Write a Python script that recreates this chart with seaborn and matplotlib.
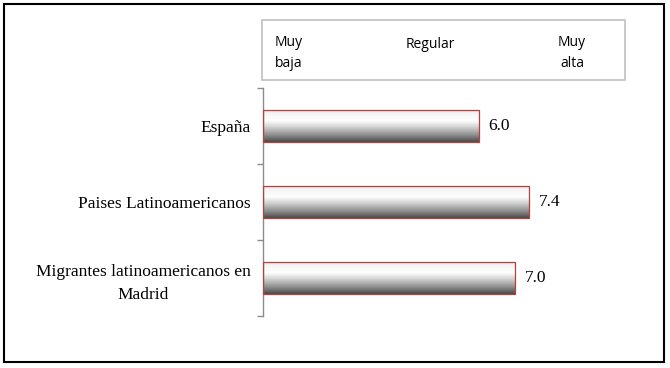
import matplotlib
matplotlib.use("Agg")
import matplotlib.pyplot as plt
import seaborn as sns
import numpy as np
import pandas as pd
from matplotlib.patches import Rectangle
from matplotlib.colors import LinearSegmentedColormap

categories = ["España", "Paises Latinoamericanos", "Migrantes latinoamericanos en\nMadrid"]
values = [6.0, 7.4, 7.0]
value_labels = ["6.0", "7.4", "7.0"]
scale_labels = ["Muy\nbaja", "Regular", "Muy\nalta"]

df = pd.DataFrame({"cat": categories, "val": values})

sns.set_style("white")
plt.rcParams["font.family"] = ["Liberation Serif", "DejaVu Serif"]
plt.rcParams["text.color"] = "black"
plt.rcParams["ytick.color"] = "black"

W, H = 670, 368
fig = plt.figure(figsize=(W / 100, H / 100), dpi=100)
ax = fig.add_axes([263 / W, 52 / H, 360 / W, 228 / H])

sns.barplot(data=df, x="val", y="cat", orient="h", ax=ax, width=0.43,
            color="white", edgecolor="#b5403c", linewidth=0.9, zorder=3)

# gradient fill for each bar
cmap = LinearSegmentedColormap.from_list(
    "g", [(0.0, "#d8d8d8"), (0.12, "#f4f4f4"), (0.35, "#ffffff"),
          (0.55, "#d0d0d0"), (0.8, "#8a8a8a"), (1.0, "#4a4a4a")])
grad = np.linspace(0, 1, 256).reshape(-1, 1)
for p in ax.patches:
    p.set_facecolor("none")
    x0, y0 = p.get_x(), p.get_y()
    w, h = p.get_width(), p.get_height()
    im = ax.imshow(grad, cmap=cmap, aspect="auto", interpolation="bilinear",
                   extent=[x0, x0 + w, y0 + h, y0], origin="upper", zorder=2)
    im.set_clip_path(p)
ax.set_xlim(0, 10)
ax.set_ylim(2.5, -0.5)

for i, (v, lab) in enumerate(zip(values, value_labels)):
    ax.annotate(lab, xy=(v, i), xytext=(7, 0), textcoords="offset points",
                ha="left", va="center", fontsize=12.5, color="black")

ax.set_xlabel("")
ax.set_ylabel("")
ax.set_xticks([])
ax.set_yticks(range(3))
ax.set_yticklabels(categories, fontsize=12.5, ha="right", multialignment="center",
                   color="black", linespacing=1.6)
ax.tick_params(axis="y", which="major", length=0, pad=9)
ax.set_yticks([-0.5, 0.5, 1.5, 2.5], minor=True)
ax.tick_params(axis="y", which="minor", length=4, width=1, color="#8c8c8c", left=True)
for s in ["top", "right", "bottom"]:
    ax.spines[s].set_visible(False)
ax.spines["left"].set_color("#8c8c8c")
ax.spines["left"].set_linewidth(1)

# top scale box
fig.patches.append(Rectangle((262 / W, 1 - 80 / H), 363 / W, 60 / H,
                             transform=fig.transFigure, fill=False,
                             edgecolor="#c0c0c0", linewidth=1.2))
sans = ["Open Sans", "DejaVu Sans"]
fig.text(275 / W, 1 - 53 / H, scale_labels[0], ha="left", va="center",
         fontsize=10, family=sans, linespacing=1.5, color="black")
fig.text(430 / W, 1 - 44 / H, scale_labels[1], ha="center", va="center",
         fontsize=10, family=sans, color="black")
fig.text(572 / W, 1 - 53 / H, scale_labels[2], ha="center", va="center",
         fontsize=10, family=sans, linespacing=1.5, color="black")

# outer border
fig.patches.append(Rectangle((4 / W, 1 - 362 / H), 660 / W, 358 / H,
                             transform=fig.transFigure, fill=False,
                             edgecolor="black", linewidth=1.5))

fig.savefig("out.png", dpi=100)
